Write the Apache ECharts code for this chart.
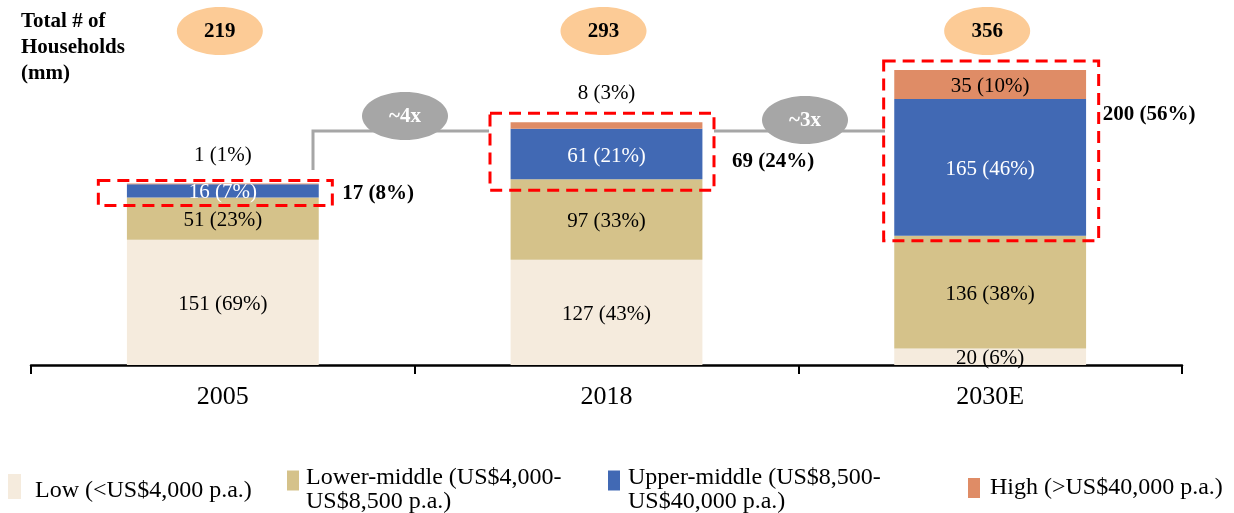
<!DOCTYPE html>
<html>
<head>
<meta charset="utf-8">
<script src="https://cdn.jsdelivr.net/npm/echarts@6/dist/echarts.min.js"></script>
<style>
  html, body { margin: 0; padding: 0; background: #fff; }
  #chart { width: 1234px; height: 513px; }
</style>
</head>
<body>
<div id="chart"></div>
<script>
// 家庭收入分层（百万户）
const years = ['2005', '2018', '2030E'];
const low = [151, 127, 20];
const lowPct = [69, 43, 6];
const lowerMid = [51, 97, 136];
const lowerMidPct = [23, 33, 38];
const upperMid = [16, 61, 165];
const upperMidPct = [7, 21, 46];
const high = [1, 8, 35];
const highPct = [1, 3, 10];
const totals = [219, 293, 356];
const upperTotal = [17, 69, 200];
const upperTotalPct = [8, 24, 56];
const growth = ['~4x', '~3x'];

const FONT = "'Liberation Serif', 'Times New Roman', serif";
const colors = {
  low: '#F5EBDD',
  lowerMid: '#D5C28A',
  upperMid: '#4169B4',
  high: '#DF8C66'
};

const chart = echarts.init(document.getElementById('chart'));

function labelOf(vals, pcts) {
  return function (p) {
    return vals[p.dataIndex] + ' (' + pcts[p.dataIndex] + '%)';
  };
}

// 图例文字用富文本，顶部加一个空行把文字往下推
function legendItem(name, left, top, w, h, padLeft, spacer) {
  return {
    data: [name],
    left: left,
    top: top,
    padding: 0,
    icon: 'rect',
    itemWidth: w,
    itemHeight: h,
    selectedMode: false,
    formatter: function (n) {
      let s = spacer > 0 ? '{s| }\n' : '';
      return s + n.split('\n').map(function (line) { return '{t|' + line + '}'; }).join('\n');
    },
    textStyle: {
      fontFamily: FONT,
      fontSize: 24,
      lineHeight: 24,
      color: '#000',
      padding: [0, 0, 0, padLeft],
      rich: {
        s: { fontSize: 4, lineHeight: spacer },
        t: { fontFamily: FONT, fontSize: 24, lineHeight: 24, color: '#000' }
      }
    }
  };
}

const names = [
  'Low (<US$4,000 p.a.)',
  'Lower-middle (US$4,000-\nUS$8,500 p.a.)',
  'Upper-middle (US$8,500-\nUS$40,000 p.a.)',
  'High (>US$40,000 p.a.)'
];

const baseLabel = {
  show: true,
  position: 'inside',
  offset: [0, 2],
  fontFamily: FONT,
  fontSize: 21,
  color: '#000'
};

const option = {
  animation: false,
  title: {
    text: 'Total # of\nHouseholds\n(mm)',
    left: 21,
    top: 9,
    padding: 0,
    textStyle: {
      fontFamily: FONT,
      fontSize: 21,
      fontWeight: 'bold',
      lineHeight: 26,
      color: '#000'
    }
  },
  legend: [
    legendItem(names[0], 8, 470.5, 13, 25, 9, 8),
    legendItem(names[1], 287, 447, 12, 20, 2, 19),
    legendItem(names[2], 608, 447, 12, 20, 3, 19),
    legendItem(names[3], 968, 476, 12, 20, 5, 0)
  ],
  grid: {
    left: 31,
    right: 52,
    top: 33.5,
    bottom: 148
  },
  xAxis: {
    type: 'category',
    data: years,
    axisLine: { lineStyle: { color: '#000', width: 2.5 } },
    axisTick: { show: true, length: 9, lineStyle: { color: '#000', width: 2 } },
    axisLabel: {
      fontFamily: FONT,
      fontSize: 26,
      color: '#000',
      margin: 19
    }
  },
  yAxis: {
    type: 'value',
    min: 0,
    max: 400,
    show: false,
    splitLine: { show: false }
  },
  series: [
    {
      name: names[0],
      type: 'bar',
      stack: 'hh',
      barWidth: '50%',
      itemStyle: { color: colors.low },
      label: Object.assign({}, baseLabel, { formatter: labelOf(low, lowPct) }),
      data: low
    },
    {
      name: names[1],
      type: 'bar',
      stack: 'hh',
      itemStyle: { color: colors.lowerMid },
      label: Object.assign({}, baseLabel, { formatter: labelOf(lowerMid, lowerMidPct) }),
      data: lowerMid
    },
    {
      name: names[2],
      type: 'bar',
      stack: 'hh',
      itemStyle: { color: colors.upperMid },
      label: Object.assign({}, baseLabel, { color: '#fff', formatter: labelOf(upperMid, upperMidPct) }),
      data: upperMid
    },
    {
      name: names[3],
      type: 'bar',
      stack: 'hh',
      itemStyle: { color: colors.high },
      label: Object.assign({}, baseLabel, { formatter: labelOf(high, highPct) }),
      // 太小的段把标签放到柱子上方
      data: high.map(function (v) {
        return v < 20 ? { value: v, label: { position: 'top', distance: 20 } } : v;
      })
    }
  ]
};

chart.setOption(option);

// 注释图形：总数椭圆、虚线框、增长倍数
function px(i, v) {
  return chart.convertToPixel({ seriesIndex: 0 }, [years[i], v]);
}
const halfBar = 95.5;
// 虚线框相对柱子的外扩 [左, 右, 上, 下]
const boxPad = [[29, 14, 3, 8], [21, 12, 9, 11], [11, 13, 9, 5]];
const boldPos = [[10, 1], [18, 10], [4, -36]];

const graphics = [];
years.forEach(function (y, i) {
  const cx = px(i, 0)[0];
  graphics.push({
    type: 'ellipse',
    shape: { cx: cx - 3, cy: 31, rx: 43, ry: 24 },
    style: { fill: '#FCCB96' },
    z: 100
  });
  graphics.push({
    type: 'text',
    x: cx - 3,
    y: 32,
    style: {
      text: String(totals[i]),
      fontFamily: FONT, fontSize: 21, fontWeight: 'bold',
      fill: '#000', align: 'center', verticalAlign: 'middle'
    },
    z: 101
  });
  const base = low[i] + lowerMid[i];
  const top = totals[i];
  const yTop = px(i, top)[1];
  const yBot = px(i, base)[1];
  const p = boxPad[i];
  const x0 = cx - halfBar - p[0];
  const x1 = cx + halfBar + p[1];
  const y0 = yTop - p[2];
  const y1 = yBot + p[3];
  graphics.push({
    type: 'rect',
    shape: { x: x0, y: y0, width: x1 - x0, height: y1 - y0 },
    style: { fill: null, stroke: '#FF0000', lineWidth: 3, lineDash: [12, 7] },
    z: 100
  });
  graphics.push({
    type: 'text',
    x: x1 + boldPos[i][0],
    y: (y0 + y1) / 2 + boldPos[i][1],
    style: {
      text: upperTotal[i] + ' (' + upperTotalPct[i] + '%)',
      fontFamily: FONT, fontSize: 21, fontWeight: 'bold',
      fill: '#000', align: 'left', verticalAlign: 'middle'
    },
    z: 101
  });
});

// 连接线和倍数椭圆
const links = [
  { pts: [[313, 170], [313, 131], [489, 131]], c: [405, 116] },
  { pts: [[714, 131], [885, 131]], c: [805, 120] }
];
links.forEach(function (l, i) {
  graphics.push({
    type: 'polyline',
    shape: { points: l.pts },
    style: { stroke: '#A6A6A6', lineWidth: 3, fill: null },
    z: 99
  });
  graphics.push({
    type: 'ellipse',
    shape: { cx: l.c[0], cy: l.c[1], rx: 43, ry: 24 },
    style: { fill: '#A6A6A6' },
    z: 100
  });
  graphics.push({
    type: 'text',
    x: l.c[0],
    y: l.c[1] + 1,
    style: {
      text: growth[i],
      fontFamily: FONT, fontSize: 21, fontWeight: 'bold',
      fill: '#fff', align: 'center', verticalAlign: 'middle'
    },
    z: 101
  });
});

chart.setOption({ graphic: graphics });
</script>
</body>
</html>
